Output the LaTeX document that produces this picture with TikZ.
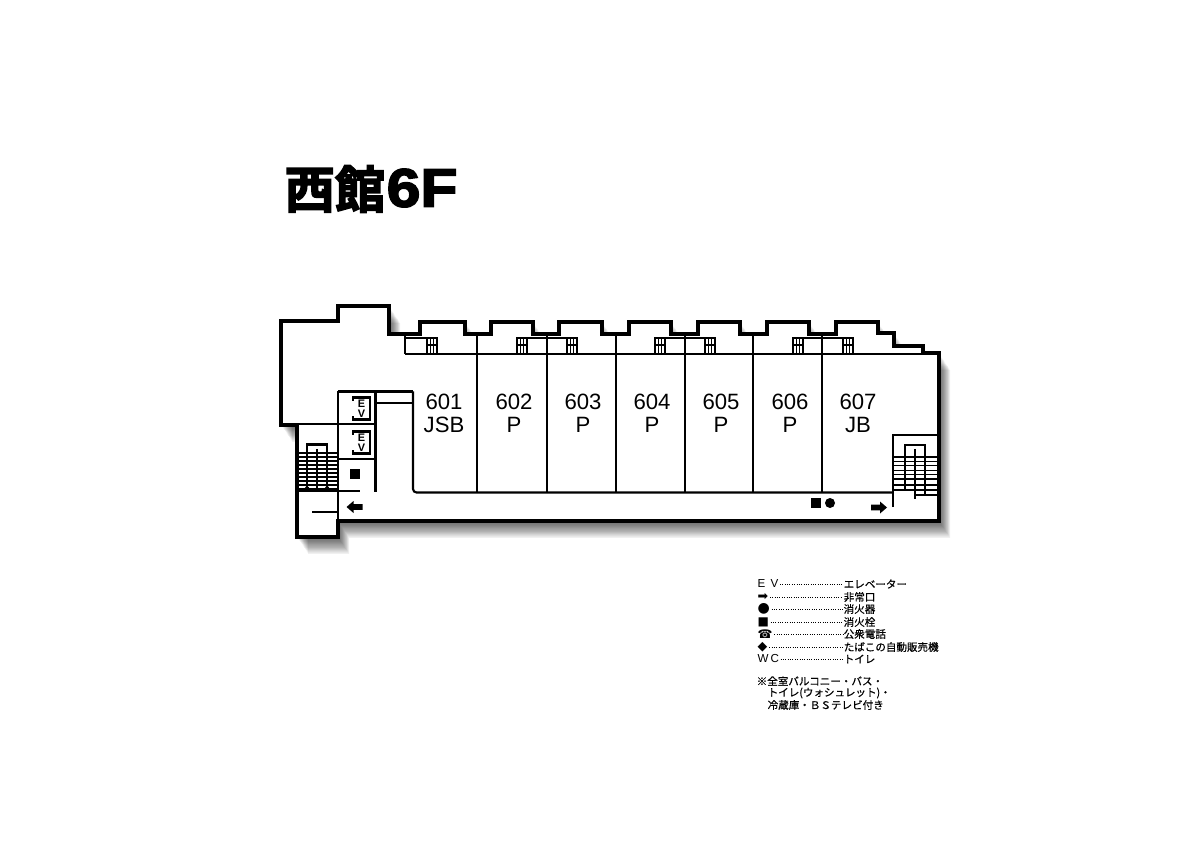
\documentclass[tikz,border=0pt]{standalone}
\usepackage{fontspec}
\setmainfont{Liberation Sans}
\newfontfamily\jpfont[FakeBold=0.6]{Noto Sans CJK JP}
\newfontfamily\jpbold[FakeBold=3]{Noto Sans CJK JP Bold}
\newfontfamily\titlelatin[FakeBold=3,FakeStretch=1.12]{Liberation Sans Bold}
\newfontfamily\symfont{DejaVu Sans}
\usetikzlibrary{positioning}

\tikzset{
  wall/.style={line width=1.4pt, line join=miter},
  inner wall/.style={line width=.6pt},
  fine line/.style={line width=.32pt},
  room label/.style={font=\fontsize{6.3}{6.54}\selectfont, align=center, inner sep=0pt},
  ev label/.style={font=\bfseries\fontsize{3.1}{2.8}\selectfont, align=center, inner sep=0pt},
  key/.style={font=\fontsize{3.3}{3.3}\selectfont, anchor=west, inner sep=0pt},
  key text/.style={font=\jpfont\fontsize{3.0}{3.0}\selectfont, anchor=west, inner sep=0pt},
  key dots/.style={line width=.28pt, dash pattern=on .25pt off .42pt},
  note text/.style={font=\jpfont\fontsize{3.0}{3.0}\selectfont, anchor=west, inner sep=0pt}
}
\def\outerwall{(281,321) -- (338,321) -- (338,306) -- (389,306) -- (389,334) -- (420,334) -- (420,322)
  -- (465,322) -- (465,334) -- (491,334) -- (491,322) -- (533,322) -- (533,334) -- (559,334) -- (559,322)
  -- (602,322) -- (602,334) -- (629,334) -- (629,322) -- (671,322) -- (671,334) -- (698,334) -- (698,322)
  -- (740,322) -- (740,334) -- (767,334) -- (767,322) -- (809,322) -- (809,334) -- (836,334) -- (836,322)
  -- (878,322) -- (878,333) -- (894,333) -- (894,346) -- (923,346) -- (923,353) -- (939,353)
  -- (939,521) -- (338,521) -- (338,537) -- (297,537) -- (297,425) -- (281,425) -- cycle}
\def\exitarrow{(-8,-2.8) -- (1,-2.8) -- (1,-6) -- (8,0) -- (1,6) -- (1,2.8) -- (-8,2.8) -- cycle}

\begin{document}
\begin{tikzpicture}[x=0.01cm, y=-0.01cm]
  \useasboundingbox (0,0) rectangle (1191,843);

  % Title
  \node[anchor=west, inner sep=0pt, font=\jpbold\fontsize{14.3}{14.3}\selectfont] (titlekanji) at (284,189) {西館};
  \node[anchor=west, inner sep=0pt, font=\titlelatin\fontsize{15.4}{15.4}\selectfont] (titlefloor) at (386,188) {6F};

  % Soft shadow, then the outer wall
  \foreach \k in {1,...,14}
    \fill[black, opacity=0.06, shift={(\k*0.8,\k*1.2)}] \outerwall;
  \filldraw[wall, fill=white] \outerwall;

  % Balcony line and room partitions
  \draw[inner wall] (405,354) -- (939,354);
  \draw[inner wall] (405,335) -- (405,354);
  \draw[inner wall] (405,338) -- (437,338);
  \draw[inner wall] (517,338) -- (577,338);
  \draw[inner wall] (655,338) -- (715,338);
  \draw[inner wall] (793,338) -- (853,338);
  \foreach \x in {477,547,616,685,753,822}
    \draw[inner wall] (\x,335) -- (\x,492.5);

  % Windows
  \foreach \x in {427,517,567,655,705,793,843} {
    \draw[fine line] (\x,338) rectangle ++(10,15.5);
    \draw[fine line] (\x+3.4,338) -- ++(0,15.5);
    \draw[fine line] (\x+6.8,338) -- ++(0,15.5);
    \draw[fine line] (\x,345) -- ++(10,0);
  }

  % Corridor side of the rooms
  \draw[inner wall, rounded corners=1pt] (413,391.5) -- (413,492.5) -- (893,492.5);

  % Elevator block
  \draw[inner wall] (338,391.5) -- (413,391.5);
  \draw[inner wall] (376,403) -- (413,403);
  \draw[inner wall] (338,391.5) -- (338,521);
  \draw[inner wall] (375.5,391.5) -- (375.5,492);
  \draw[inner wall] (297,424) -- (375.5,424);
  \draw[inner wall] (338,459) -- (375.5,459);
  \draw[inner wall] (297,491) -- (360,491);
  \draw[inner wall] (312,512) -- (338,512);
  \foreach \y/\n in {408.5/eva,442.5/evb} {
    \draw[inner wall] (353,\y-7.5) -- (353,\y-11) -- (370,\y-11) -- (370,\y+11) -- (353,\y+11) -- (353,\y+7.5);
    \node[ev label] (\n) at (361.5,\y) {E\\V};
  }

  % West stairs
  \foreach \y in {453,457,461,465,469,473,477,481,485,489}
    \draw[fine line] (297,\y) -- (338,\y);
  \draw[inner wall] (307,490) -- (307,444.5) -- (327,444.5) -- (327,490);
  \draw[inner wall] (317,449) -- (317,490);
  \filldraw[fine line, fill=white] (307,487.5) circle (1.2);
  \filldraw[fine line, fill=white] (327,487.5) circle (1.2);

  % East stairs
  \draw[inner wall] (893,507) -- (893,435) -- (939,435);
  \foreach \y in {457,461.4,465.8,470.2,474.6,479,485}
    \draw[fine line] (893,\y) -- (939,\y);
  \draw[inner wall] (893,490) -- (939,490);
  \draw[inner wall] (915,495) -- (939,495);
  \draw[inner wall] (905,490) -- (905,445) -- (925,445) -- (925,495);
  \draw[inner wall] (915,449) -- (915,499);

  % Hydrants, extinguisher, exits
  \fill (350,469) rectangle (360,479);
  \fill (811,498) rectangle (821,508);
  \fill (830,503) circle (5);
  \fill[shift={(354.5,507)}, xscale=-1] \exitarrow;
  \fill[shift={(879,507.5)}] \exitarrow;

  % Room numbers
  \foreach \x/\num/\kind in {444/601/JSB,514/602/P,583/603/P,652/604/P,721/605/P,790/606/P,858/607/JB}
    \node[room label] (room\num) at (\x,413.5) {\num\\\kind};

  % Legend
  \foreach \y/\n/\sym/\txt in {
      584/keyev/{E\;\,V}/エレベーター,
      597/keyexit/{\symfont\fontsize{3.6}{3.6}\selectfont ➡}/非常口,
      609/keyext/{\symfont\fontsize{4}{4}\selectfont ●}/消火器,
      622/keyhyd/{\symfont\fontsize{3.4}{3.4}\selectfont ■}/消火栓,
      634/keytel/{\symfont\fontsize{3.4}{3.4}\selectfont ☎}/公衆電話,
      647/keytob/{\symfont\fontsize{3.6}{3.6}\selectfont ◆}/たばこの自動販売機,
      659/keywc/{W\,C}/トイレ} {
    \node[key] (\n) at (757,\y) {\sym};
    \node[key text] (\n t) at (843,\y) {\txt};
    \draw[key dots] (\n.east) ++(1,0) -- (\n t.west);
  }
  \node[note text] (notea) at (756,681) {※全室バルコニー・バス・};
  \node[note text] (noteb) at (767,693) {トイレ(ウォシュレット)・};
  \node[note text] (notec) at (767,705) {冷蔵庫・ＢＳテレビ付き};
\end{tikzpicture}
\end{document}
